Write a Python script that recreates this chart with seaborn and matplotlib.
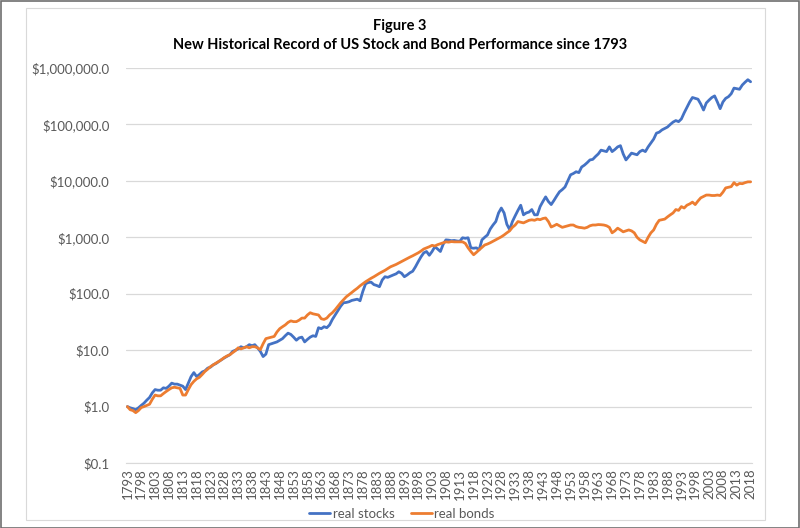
import numpy as np
import pandas as pd
import matplotlib
matplotlib.use("Agg")
import matplotlib.pyplot as plt
from matplotlib.patches import Rectangle
from matplotlib.lines import Line2D
import seaborn as sns

# Years shown on the category axis
years = list(range(1793, 2019))

# Cumulative real wealth of $1 invested in 1793
real_stocks = [
    1.00, 0.95, 0.92, 0.88, 0.95, 1.05, 1.15,                                  # 1793-1799
    1.30, 1.45, 1.75, 2.00, 1.95, 1.95, 2.15, 2.10, 2.30, 2.60,                # 1800s
    2.50, 2.50, 2.40, 2.30, 2.00, 2.60, 3.40, 4.00, 3.40, 3.70,                # 1810s
    4.10, 4.30, 4.80, 5.00, 5.50, 5.80, 6.30, 6.80, 7.30, 7.80,                # 1820s
    8.30, 9.50, 10.0, 10.5, 11.5, 11.0, 11.5, 12.5, 12.0, 12.5,                # 1830s
    11.0, 9.50, 7.70, 8.50, 12.5, 13.0, 13.5, 14.0, 15.0, 16.0,                # 1840s
    18.0, 20.0, 19.0, 17.0, 15.0, 16.5, 17.0, 14.0, 15.5, 17.0,                # 1850s
    18.0, 17.5, 25.0, 24.0, 26.0, 25.0, 28.0, 35.0, 42.0, 50.0,                # 1860s
    60.0, 69.0, 70.0, 72.0, 76.0, 78.0, 80.0, 75.0, 110.0, 150.0,              # 1870s
    158.0, 160.0, 145.0, 140.0, 133.0, 175.0, 200.0, 195.0, 205.0, 215.0,      # 1880s
    225.0, 245.0, 230.0, 200.0, 215.0, 235.0, 250.0, 300.0, 370.0, 450.0,      # 1890s
    530.0, 560.0, 480.0, 560.0, 680.0, 620.0, 560.0, 750.0, 900.0, 890.0,      # 1900s
    870.0, 880.0, 860.0, 850.0, 980.0, 960.0, 980.0, 650.0, 640.0, 650.0,      # 1910s
    600.0, 900.0, 1000.0, 1100.0, 1400.0, 1650.0, 1900.0, 2700.0, 3300.0, 2700.0,  # 1920s
    1700.0, 1370.0, 1900.0, 2400.0, 3000.0, 3700.0, 2500.0, 2700.0, 2800.0, 3100.0,  # 1930s
    2500.0, 2500.0, 3500.0, 4300.0, 5200.0, 4300.0, 3800.0, 4500.0, 5400.0, 6400.0,  # 1940s
    7000.0, 7800.0, 10000.0, 12800.0, 13500.0, 14500.0, 14000.0, 17600.0, 19000.0, 21000.0,  # 1950s
    23500.0, 24000.0, 27000.0, 30000.0, 35000.0, 34000.0, 33000.0, 40000.0, 33000.0, 36000.0,  # 1960s
    40000.0, 42000.0, 30000.0, 23500.0, 27000.0, 31000.0, 30000.0, 29000.0, 33000.0, 35000.0,  # 1970s
    33000.0, 40000.0, 47000.0, 55000.0, 70000.0, 73000.0, 80000.0, 85000.0, 90000.0, 100000.0,  # 1980s
    110000.0, 117000.0, 112000.0, 125000.0, 160000.0, 200000.0, 250000.0, 300000.0, 290000.0, 280000.0,  # 1990s
    230000.0, 180000.0, 240000.0, 270000.0, 300000.0, 320000.0, 250000.0, 190000.0, 250000.0, 290000.0,  # 2000s
    310000.0, 350000.0, 440000.0, 430000.0, 420000.0, 500000.0, 560000.0, 620000.0, 570000.0,  # 2010-2018
]

real_bonds = [
    1.00, 0.88, 0.85, 0.78, 0.85, 0.96, 1.00,                                  # 1793-1799
    1.05, 1.10, 1.35, 1.60, 1.55, 1.55, 1.70, 1.85, 2.00, 2.15,                # 1800s
    2.20, 2.15, 2.10, 1.60, 1.60, 2.00, 2.45, 2.80, 3.10, 3.30,                # 1810s
    3.70, 4.20, 4.60, 5.10, 5.50, 5.90, 6.30, 6.80, 7.40, 7.90,                # 1820s
    8.30, 9.00, 9.80, 11.0, 10.5, 11.0, 11.5, 11.0, 11.5, 11.5,                # 1830s
    11.0, 10.2, 13.0, 16.0, 16.5, 17.0, 17.5, 21.0, 24.0, 26.0,                # 1840s
    28.0, 31.0, 33.0, 32.0, 32.0, 34.0, 37.0, 37.0, 42.0, 46.0,                # 1850s
    44.0, 43.0, 42.0, 36.0, 35.0, 37.0, 42.0, 46.0, 52.0, 60.0,                # 1860s
    69.0, 78.0, 88.0, 96.0, 105.0, 115.0, 125.0, 138.0, 150.0, 163.0,          # 1870s
    175.0, 188.0, 200.0, 215.0, 230.0, 245.0, 260.0, 280.0, 300.0, 315.0,      # 1880s
    330.0, 350.0, 370.0, 395.0, 420.0, 445.0, 470.0, 500.0, 530.0, 570.0,      # 1890s
    620.0, 650.0, 680.0, 720.0, 700.0, 740.0, 770.0, 800.0, 830.0, 820.0,      # 1900s
    840.0, 830.0, 830.0, 830.0, 830.0, 780.0, 650.0, 560.0, 490.0, 540.0,      # 1910s
    600.0, 660.0, 730.0, 760.0, 800.0, 850.0, 900.0, 960.0, 1020.0, 1100.0,    # 1920s
    1200.0, 1300.0, 1500.0, 1650.0, 1900.0, 1850.0, 1800.0, 1900.0, 2000.0, 2040.0,  # 1930s
    2000.0, 2100.0, 2050.0, 2150.0, 2200.0, 1900.0, 1520.0, 1600.0, 1700.0, 1600.0,  # 1940s
    1500.0, 1550.0, 1600.0, 1650.0, 1650.0, 1550.0, 1500.0, 1480.0, 1450.0, 1500.0,  # 1950s
    1600.0, 1650.0, 1650.0, 1680.0, 1670.0, 1650.0, 1600.0, 1500.0, 1200.0, 1300.0,  # 1960s
    1450.0, 1350.0, 1250.0, 1300.0, 1350.0, 1300.0, 1200.0, 1000.0, 900.0, 850.0,    # 1970s
    800.0, 1000.0, 1200.0, 1350.0, 1700.0, 2000.0, 2050.0, 2100.0, 2300.0, 2500.0,   # 1980s
    2700.0, 3100.0, 3000.0, 3500.0, 3300.0, 3700.0, 3900.0, 4200.0, 3800.0, 4400.0,  # 1990s
    5000.0, 5300.0, 5600.0, 5600.0, 5500.0, 5500.0, 5600.0, 5500.0, 6300.0, 7500.0,  # 2000s
    7700.0, 7900.0, 9300.0, 8400.0, 9000.0, 8900.0, 9300.0, 9600.0, 9600.0,          # 2010-2018
]

series_names = ["real stocks", "real bonds"]
series_colors = ["#4472C4", "#ED7D31"]
title_lines = ["Figure 3", "New Historical Record of US Stock and Bond Performance since 1793"]
y_ticks = [0.1, 1, 10, 100, 1000, 10000, 100000, 1000000]
x_tick_years = years[::5]

df = pd.DataFrame({
    "year": years * 2,
    "value": real_stocks + real_bonds,
    "series": [series_names[0]] * len(years) + [series_names[1]] * len(years),
})

sns.set_style("white")
plt.rcParams["font.family"] = ["Lato", "DejaVu Sans"]

W, H = 800, 528
fig = plt.figure(figsize=(W / 100, H / 100), dpi=100)

# outer image border and chart-area border
fig.patches.append(Rectangle((0.5 / W, 0.5 / H), 1 - 1.5 / W, 1 - 1.5 / H, transform=fig.transFigure,
                             fill=False, edgecolor="#6e6e6e", linewidth=1.2))
fig.patches.append(Rectangle((26 / W, (H - 520) / H), (765 - 26) / W, (520 - 8) / H, transform=fig.transFigure,
                             fill=False, edgecolor="#d9d9d9", linewidth=0.8))

left, right, top, bottom = 126, 752, 68, 463
ax = fig.add_axes([left / W, (H - bottom) / H, (right - left) / W, (bottom - top) / H])

sns.lineplot(data=df, x="year", y="value", hue="series", palette=series_colors,
             linewidth=2.0, legend=False, ax=ax)

ax.set_yscale("log")
ax.set_ylim(0.1, 1000000)
ax.set_xlim(years[0] - 0.5, years[-1] + 0.5)

ax.set_yticks(y_ticks)
ax.set_yticklabels(["${:,.1f}".format(v) for v in y_ticks])
ax.yaxis.set_minor_locator(matplotlib.ticker.NullLocator())
ax.set_xticks(x_tick_years)
ax.set_xticklabels([str(y) for y in x_tick_years], rotation=90)

ax.grid(axis="y", color="#d9d9d9", linewidth=0.9)
ax.grid(axis="x", visible=False)
for s in ["top", "right", "left"]:
    ax.spines[s].set_visible(False)
ax.spines["bottom"].set_color("#d9d9d9")
ax.tick_params(axis="both", length=0, colors="#595959", labelsize=9.5)
ax.tick_params(axis="x", pad=4)
ax.tick_params(axis="y", pad=12)
ax.set_xlabel("")
ax.set_ylabel("")

fig.text(400 / W, 1 - 26 / H, title_lines[0], ha="center", va="center",
         fontsize=10.5, fontweight="bold", color="#000000")
fig.text(400 / W, 1 - 45 / H, title_lines[1], ha="center", va="center",
         fontsize=10.5, fontweight="bold", color="#000000")

handles = [Line2D([0], [0], color=c, linewidth=2.0) for c in series_colors]
fig.legend(handles, series_names, loc="center", bbox_to_anchor=(402 / W, 1 - 514 / H), ncol=2,
           frameon=False, fontsize=9.5, handlelength=1.6, handletextpad=0.2, columnspacing=1.2,
           labelcolor="#595959")

fig.savefig("out.png", dpi=100)
